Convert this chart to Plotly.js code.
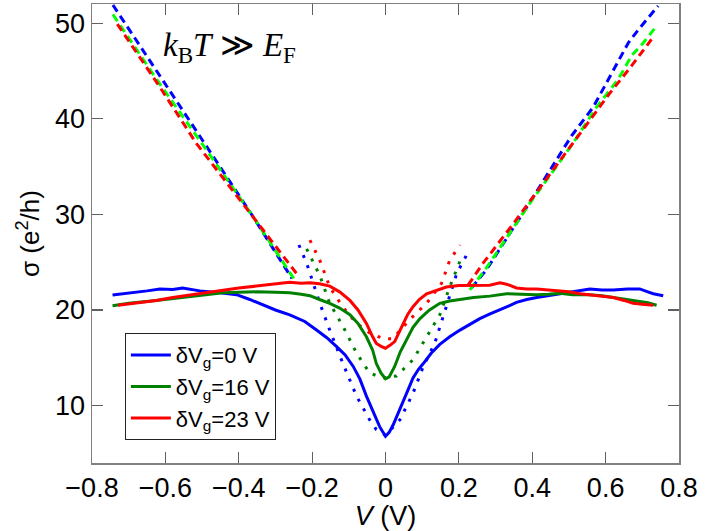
<!DOCTYPE html>
<html>
<head>
<meta charset="utf-8">
<script src="https://cdn.plot.ly/plotly-3.0.1.min.js"></script>
<style>
  body { margin: 0; background: #fff; }
  #sigma { width: 706px; height: 531px; }
</style>
</head>
<body>
<div id="sigma"></div>
<script>
// measured sigma(V), solid lines
const vSolid0 = [-0.744,-0.70,-0.65,-0.615,-0.58,-0.553,-0.506,-0.45,-0.406,-0.37,-0.334,-0.30,-0.261,-0.22,-0.188,-0.16,-0.134,-0.11,-0.088,-0.07,-0.052,-0.035,-0.016,0,0.01,0.021,0.035,0.048,0.062,0.075,0.09,0.103,0.125,0.148,0.175,0.203,0.23,0.257,0.285,0.312,0.335,0.357,0.385,0.412,0.445,0.475,0.515,0.557,0.59,0.621,0.66,0.693,0.715,0.73,0.757];
const sSolid0 = [21.56,21.75,22.0,22.2,22.15,22.3,22.0,21.8,21.6,21.1,20.5,20.0,19.5,18.8,17.9,17.1,16.2,15.3,14.1,12.8,11.0,9.5,7.8,6.8,7.2,8.0,9.2,10.4,11.7,12.9,13.8,14.4,15.5,16.4,17.2,17.9,18.5,19.1,19.6,20.0,20.4,20.8,21.1,21.3,21.5,21.7,22.0,22.2,22.1,22.1,22.2,22.2,21.9,21.7,21.5];

const vSolid16 = [-0.744,-0.70,-0.625,-0.58,-0.534,-0.49,-0.443,-0.40,-0.352,-0.30,-0.261,-0.23,-0.206,-0.18,-0.152,-0.125,-0.097,-0.075,-0.052,-0.035,-0.025,-0.012,0,0.01,0.025,0.04,0.057,0.075,0.094,0.12,0.148,0.175,0.203,0.24,0.284,0.33,0.37,0.412,0.445,0.475,0.51,0.557,0.59,0.621,0.66,0.693,0.715,0.739];
const sSolid16 = [20.45,20.7,21.0,21.2,21.45,21.65,21.8,21.85,21.9,21.85,21.8,21.65,21.5,21.1,20.7,20.2,19.5,18.6,17.2,15.8,14.4,13.4,12.8,13.0,14.1,15.6,16.9,18.2,19.1,20.0,20.7,20.95,21.1,21.3,21.45,21.7,21.65,21.6,21.65,21.75,21.6,21.6,21.5,21.3,21.1,20.9,20.75,20.5];

const vSolid23 = [-0.729,-0.68,-0.625,-0.58,-0.534,-0.49,-0.443,-0.40,-0.352,-0.30,-0.261,-0.23,-0.206,-0.18,-0.152,-0.125,-0.097,-0.075,-0.052,-0.035,-0.025,-0.012,0,0.012,0.025,0.035,0.048,0.06,0.075,0.092,0.112,0.14,0.166,0.2,0.239,0.284,0.312,0.33,0.357,0.385,0.412,0.445,0.475,0.50,0.53,0.575,0.621,0.65,0.675,0.70,0.73];
const sSolid23 = [20.5,20.7,21.0,21.3,21.56,21.85,22.1,22.3,22.5,22.7,22.9,22.8,22.85,22.75,22.5,21.9,21.0,20.0,18.6,17.2,16.5,16.2,16.0,16.3,16.7,17.5,18.6,19.5,20.35,21.1,21.7,22.1,22.4,22.55,22.6,22.6,22.85,22.7,22.3,22.2,22.2,22.1,22.0,21.9,21.7,21.5,21.3,21.0,20.7,20.6,20.5];

// model, dotted (low bias)
const vDot0 = [-0.236,-0.215,-0.179,-0.152,-0.116,-0.079,-0.043,-0.025,0,0.014,0.039,0.075,0.103,0.134,0.166,0.194,0.23];
const sDot0 = [26.8,24.9,20.7,17.9,14.4,11.0,8.5,7.5,6.9,7.5,8.5,11.3,14.1,16.5,20.35,23.8,26.4];

const vDot16 = [-0.215,-0.179,-0.152,-0.116,-0.079,-0.043,-0.008,0.03,0.075,0.112,0.148,0.175,0.207];
const sDot16 = [26.4,23.6,20.7,18.3,15.5,13.4,12.9,13.1,14.8,17.2,19.5,22.4,25.5];

const vDot23 = [-0.206,-0.179,-0.152,-0.116,-0.079,-0.043,-0.006,0.02,0.066,0.112,0.153,0.175,0.203];
const sDot23 = [27.3,25.2,22.4,20.3,18.6,17.6,17.0,17.0,19.0,20.7,22.8,25.2,26.8];

// model, dashed (high bias), null splits the two branches
const vDash0 = [-0.743,-0.62,-0.479,-0.36,-0.255,null,0.234,0.275,0.394,0.507,0.566,0.625,0.662,0.689,0.743];
const sDash0 = [51.9,44.8,36.7,29.7,23.3,null,22.3,24.2,31.3,38.2,41.2,45.3,47.95,49.3,51.8];

const vDash16 = [-0.743,-0.62,-0.493,-0.36,-0.245,null,0.23,0.275,0.394,0.507,0.575,0.634,0.671,0.703,0.739];
const sDash16 = [50.9,43.9,37.0,29.7,23.0,null,22.1,24.4,31.2,37.2,41.2,44.1,46.6,47.95,49.7];

const vDash23 = [-0.731,-0.62,-0.515,-0.36,-0.238,null,0.225,0.266,0.348,0.44,0.53,0.612,0.666,0.694,0.725];
const sDash23 = [49.9,43.6,37.4,29.7,23.6,null,22.6,24.9,29.0,33.8,38.4,42.7,45.3,46.7,48.3];

const legendNames = ['δV<sub>g</sub>=0 V', 'δV<sub>g</sub>=16 V', 'δV<sub>g</sub>=23 V'];
const xTicks = [-0.8,-0.6,-0.4,-0.2,0,0.2,0.4,0.6,0.8];
const yTicks = [10,20,30,40,50];

function line(x, y, color, dash, name){
    return {
        x: x,
        y: y,
        type: 'scatter',
        mode: 'lines',
        name: name || '',
        showlegend: !!name,
        connectgaps: false,
        line: {color: color, width: 3, dash: dash}
    };
}

const data = [
    line(vDash0, sDash0, '#0000ff', '8px,5px'),
    line(vDash16, sDash16, '#00ff00', '8px,5px'),
    line(vDash23, sDash23, '#ff0000', '8px,5px'),
    line(vDot0, sDot0, '#0000ff', '3px,8px'),
    line(vDot16, sDot16, '#008000', '3px,8px'),
    line(vDot23, sDot23, '#ff0000', '3px,8px'),
    line(vSolid0, sSolid0, '#0000ff', 'solid', legendNames[0]),
    line(vSolid16, sSolid16, '#008000', 'solid', legendNames[1]),
    line(vSolid23, sSolid23, '#ff0000', 'solid', legendNames[2])
];

const axisStyle = {
    showline: true,
    linecolor: '#808080',
    linewidth: 1.5,
    mirror: 'ticks',
    ticks: 'inside',
    ticklen: 11,
    tickwidth: 1.2,
    tickcolor: '#606060',
    showgrid: false,
    zeroline: false,
    tickfont: {size: 27, color: '#000'}
};

const layout = {
    width: 706,
    height: 531,
    margin: {l: 92, r: 27, t: 4, b: 68},
    paper_bgcolor: '#fff',
    plot_bgcolor: '#fff',
    font: {family: 'Liberation Sans, Arial, sans-serif', color: '#000'},
    xaxis: Object.assign({}, axisStyle, {
        range: [-0.8, 0.8],
        tickvals: xTicks,
        ticktext: xTicks.map(v => v === 0 ? '0' : (v < 0 ? '\u2212' : '') + Math.abs(v).toFixed(1)),
        title: {text: '<i>V</i> (V)', font: {size: 27}, standoff: 0}
    }),
    yaxis: Object.assign({}, axisStyle, {
        range: [4.0, 52.0],
        tickvals: yTicks,
        title: {text: 'σ (e<sup>2</sup>/h)', font: {size: 26}, standoff: 8}
    }),
    legend: {
        x: 0.056, y: 0.283,
        xanchor: 'left', yanchor: 'top',
        bgcolor: '#fff',
        bordercolor: '#222',
        borderwidth: 1,
        font: {size: 22},
        itemwidth: 40,
        tracegroupgap: 0
    },
    annotations: [{
        xref: 'paper', yref: 'paper',
        x: 0.235, y: 0.905,
        xanchor: 'center', yanchor: 'middle',
        showarrow: false,
        text: '<i>k</i><sub>B</sub><i>T</i> ≫ <i>E</i><sub>F</sub>',
        font: {family: 'Liberation Serif, DejaVu Serif, serif', size: 33}
    }]
};

Plotly.newPlot('sigma', data, layout, {displayModeBar: false, staticPlot: true});
</script>
</body>
</html>
